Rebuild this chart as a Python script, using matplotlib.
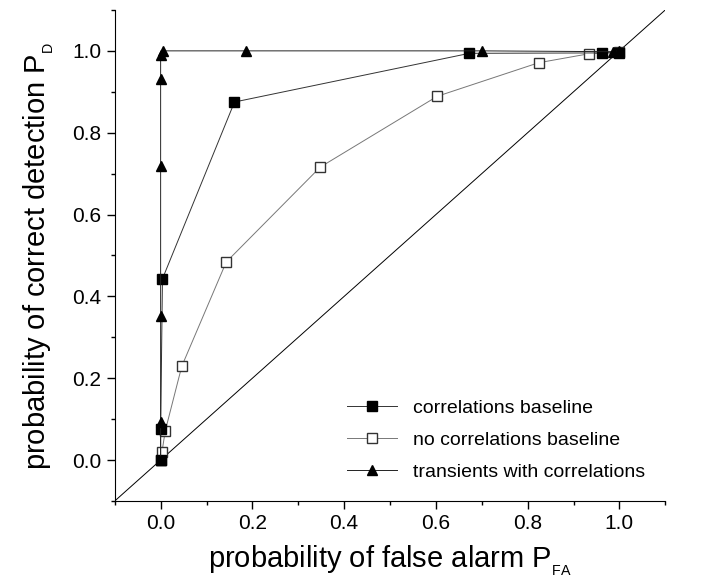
import matplotlib
matplotlib.use("Agg")
import matplotlib.pyplot as plt
from matplotlib.ticker import MultipleLocator

plt.rcParams['font.family'] = ['Liberation Sans', 'DejaVu Sans']
plt.rcParams['mathtext.fontset'] = 'custom'
plt.rcParams['mathtext.rm'] = 'Liberation Sans'
plt.rcParams['mathtext.it'] = 'Liberation Sans'

# correlations baseline (filled squares)
corr_x = [0.0, 0.0, 0.004, 0.161, 0.673, 0.963, 1.0]
corr_y = [0.0, 0.076, 0.443, 0.875, 0.994, 0.995, 0.995]

# no correlations baseline (open squares)
nocorr_x = [0.0, 0.003, 0.010, 0.046, 0.143, 0.348, 0.603, 0.824, 0.934, 1.0]
nocorr_y = [0.0, 0.020, 0.071, 0.229, 0.484, 0.716, 0.889, 0.971, 0.993, 0.998]

# transients with correlations (triangles)
trans_x = [0.0, 0.0, 0.0, 0.0, 0.0, 0.0, 0.005, 0.185, 0.700, 0.985, 1.0]
trans_y = [0.0, 0.094, 0.351, 0.718, 0.931, 0.99, 1.0, 1.0, 1.0, 0.998, 1.0]

diag = [-0.1, 1.2]

fig = plt.figure(figsize=(7.04, 5.85), dpi=100)
ax = fig.add_axes([0.163, 0.1436, 0.782, 0.8394])

ax.plot(diag, diag, color='black', lw=0.7, zorder=1)

ax.plot(corr_x, corr_y, color='#333333', lw=0.7, marker='s', ms=6.5,
        mfc='black', mec='black', label='correlations baseline', zorder=3)
ax.plot(nocorr_x, nocorr_y, color='#777777', lw=0.7, marker='s', ms=6.5,
        mfc='white', mec='#333333', mew=1.0, label='no correlations baseline', zorder=2)
ax.plot(trans_x, trans_y, color='#222222', lw=0.7, marker='^', ms=7.5,
        mfc='black', mec='black', label='transients with correlations', zorder=4)

ax.set_xlim(-0.1, 1.1)
ax.set_ylim(-0.1, 1.1)

ax.spines['top'].set_visible(False)
ax.spines['right'].set_visible(False)
ax.xaxis.set_major_locator(MultipleLocator(0.2))
ax.xaxis.set_minor_locator(MultipleLocator(0.1))
ax.yaxis.set_major_locator(MultipleLocator(0.2))
ax.yaxis.set_minor_locator(MultipleLocator(0.1))
ax.tick_params(which='major', length=6, width=1, labelsize=15, direction='out')
ax.tick_params(which='minor', length=3, width=1, direction='out')
ax.set_xticks([0.0, 0.2, 0.4, 0.6, 0.8, 1.0])
ax.set_yticks([0.0, 0.2, 0.4, 0.6, 0.8, 1.0])
ax.set_xticklabels(['0.0', '0.2', '0.4', '0.6', '0.8', '1.0'])
ax.set_yticklabels(['0.0', '0.2', '0.4', '0.6', '0.8', '1.0'])

ax.set_xlabel(r'probability of false alarm P$_{_{\rm FA}}$', fontsize=21, labelpad=8)
ax.set_ylabel(r'probability of correct detection P$_{_{\rm D}}$', fontsize=21, labelpad=12)

ax.legend(loc='lower right', bbox_to_anchor=(0.995, 0.005), frameon=False,
          fontsize=14, handlelength=2.6, labelspacing=0.75)

fig.savefig('out.png', dpi=100)
